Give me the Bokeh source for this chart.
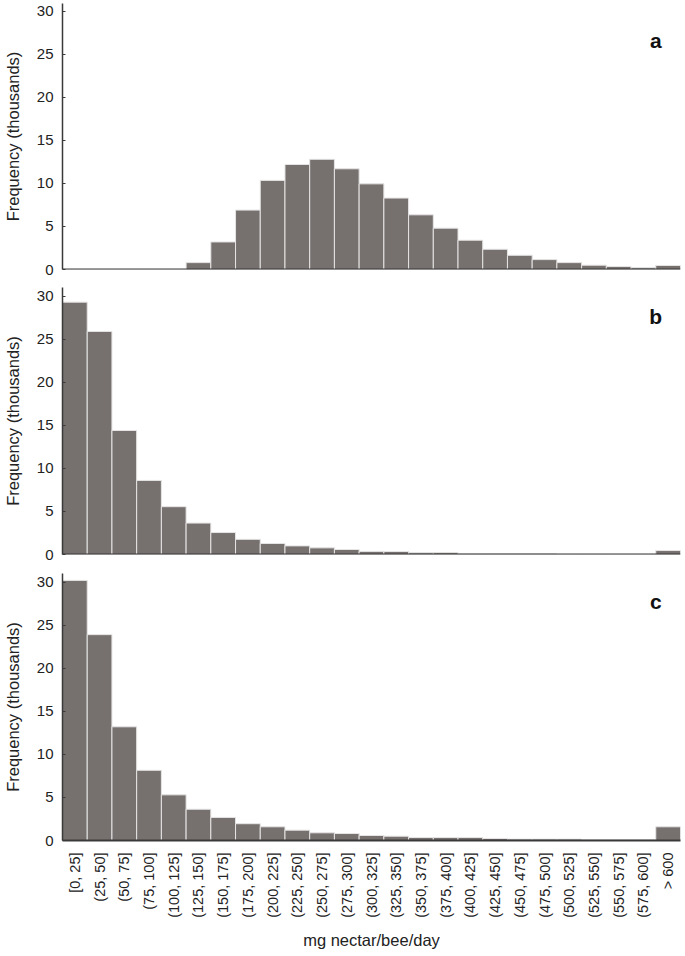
import math
from bokeh.plotting import figure
from bokeh.layouts import column
from bokeh.models import Range1d, FactorRange, Label, Span
from bokeh.embed import file_html
from bokeh.resources import INLINE

bins = ["[0, 25]", "(25, 50]", "(50, 75]", "(75, 100]", "(100, 125]", "(125, 150]",
        "(150, 175]", "(175, 200]", "(200, 225]", "(225, 250]", "(250, 275]",
        "(275, 300]", "(300, 325]", "(325, 350]", "(350, 375]", "(375, 400]",
        "(400, 425]", "(425, 450]", "(450, 475]", "(475, 500]", "(500, 525]",
        "(525, 550]", "(550, 575]", "(575, 600]", "> 600"]

freq_a = [0, 0, 0, 0, 0, 0.8, 3.2, 6.9, 10.35, 12.2, 12.8, 11.7, 9.95, 8.3, 6.35,
          4.8, 3.4, 2.35, 1.65, 1.15, 0.8, 0.5, 0.35, 0.2, 0.47]
freq_b = [29.3, 25.9, 14.4, 8.6, 5.55, 3.65, 2.55, 1.76, 1.28, 1.0, 0.77, 0.58,
          0.36, 0.35, 0.2, 0.22, 0.12, 0.08, 0.08, 0.08, 0.03, 0.03, 0.03, 0.03, 0.46]
freq_c = [30.2, 23.9, 13.2, 8.15, 5.3, 3.63, 2.68, 1.95, 1.59, 1.2, 0.89, 0.81,
          0.58, 0.5, 0.35, 0.35, 0.35, 0.23, 0.16, 0.16, 0.16, 0.08, 0.08, 0.08, 1.59]

panel_letters = ["a", "b", "c"]
y_ticks = [0, 5, 10, 15, 20, 25, 30]

FONT = "Liberation Sans"
BAR = "#76716f"
EDGE = "#e6e4e4"
AXIS = "#3a3a3a"


def make_panel(vals, letter, letter_y, height, top, bottom, y_end, bottom_panel):
    p = figure(x_range=FactorRange(*bins, range_padding=0), y_range=Range1d(0, y_end),
               width=684, height=height, output_backend="svg", toolbar_location=None,
               min_border_left=59, min_border_right=4, min_border_top=top,
               min_border_bottom=bottom,
               x_axis_location="below" if bottom_panel else None)
    p.vbar(x=bins, top=vals, width=1.0, fill_color=BAR, line_color=EDGE, line_width=1)
    p.outline_line_color = None
    p.xgrid.grid_line_color = None
    p.ygrid.grid_line_color = None
    p.background_fill_color = "white"

    ya = p.yaxis[0]
    ya.ticker = y_ticks
    ya.axis_line_color = AXIS
    ya.axis_line_width = 1.5
    ya.major_tick_line_color = AXIS
    ya.major_tick_in = 3
    ya.major_tick_out = 0
    ya.minor_tick_line_color = None
    ya.major_label_standoff = 9
    ya.major_label_text_font = FONT
    ya.major_label_text_font_size = "15px"
    ya.major_label_text_color = "#222222"
    ya.axis_label = "Frequency (thousands)"
    ya.axis_label_text_font = FONT
    ya.axis_label_text_font_size = "16.5px"
    ya.axis_label_text_font_style = "normal"
    ya.axis_label_text_color = "#222222"
    ya.axis_label_standoff = 12

    if bottom_panel:
        xa = p.xaxis[0]
        xa.axis_line_color = AXIS
        xa.axis_line_width = 2
        xa.major_tick_line_color = None
        xa.major_tick_in = 0
        xa.major_tick_out = 0
        xa.minor_tick_line_color = None
        xa.minor_tick_in = 0
        xa.minor_tick_out = 0
        xa.major_label_orientation = math.pi / 2
        xa.major_label_text_font = FONT
        xa.major_label_text_font_size = "14.5px"
        xa.major_label_text_color = "#222222"
        xa.major_label_standoff = 12
        xa.axis_label = "mg nectar/bee/day"
        xa.axis_label_text_font = FONT
        xa.axis_label_text_font_size = "16.5px"
        xa.axis_label_text_font_style = "normal"
        xa.axis_label_text_color = "#222222"
        xa.axis_label_standoff = 10
    else:
        p.add_layout(Span(location=0, dimension="width", line_color=AXIS, line_width=2))

    p.add_layout(Label(x=24.0, y=letter_y, text=letter, text_font=FONT,
                       text_font_size="21px", text_font_style="bold",
                       text_color="#111111", text_align="center",
                       text_baseline="middle"))
    return p


pa = make_panel(freq_a, panel_letters[0], 26.6, 278, 3, 9, 30.9, False)
pb = make_panel(freq_b, panel_letters[1], 27.6, 285, 9, 9, 31, False)
pc = make_panel(freq_c, panel_letters[2], 27.7, 392, 10, 115, 31, True)

layout = column(pa, pb, pc, spacing=0)
open("out.html", "w").write(file_html(layout, INLINE))
